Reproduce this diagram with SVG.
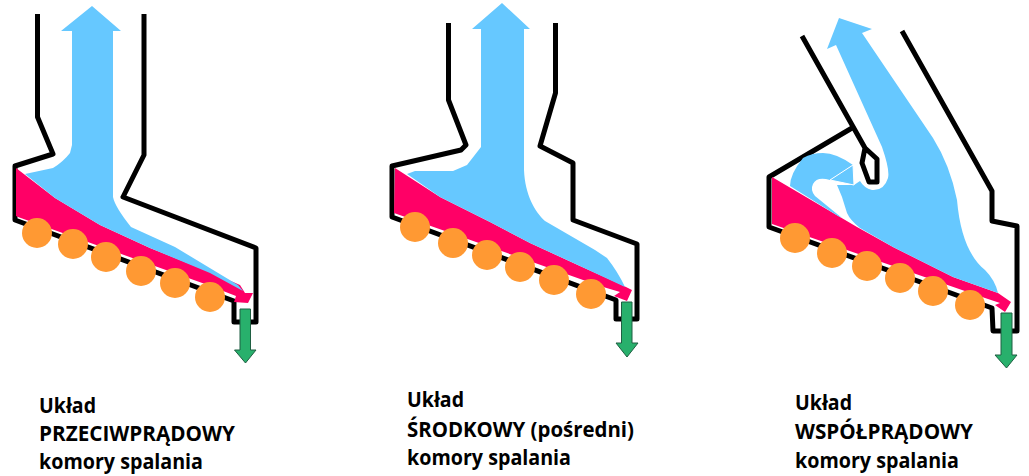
<svg xmlns="http://www.w3.org/2000/svg" width="1029" height="476" viewBox="0 0 1029 476">
<style>
.wall{fill:none;stroke:#000;stroke-width:5;stroke-linejoin:round}
.flue{fill:#66c8ff}
.bed{fill:#ff0066}
.fan{fill:#ff9933}
.ash{fill:#28b06c;stroke:#1f5f42;stroke-width:1}
.lbl{font-family:"Open Sans","Liberation Sans",sans-serif;font-weight:700;font-size:21px;fill:#000}
</style>
<rect width="1029" height="476" fill="#fff"/>
<g id="uklad-przeciwpradowy">
<path class="wall" d="M37.500 14V117L53 154L15 166V220L234 301V322H256V248L123 197L144 155V14"/>
<path class="bed" d="M16 168L55 198L100 225L150 248L210 272L240 285L245 293L253 293L248 303L234 302L236 296L205 284L18 217L16 216Z"/>
<path class="flue" d="M92 6L121 31H113V197Q115 207 131 227L175 247L238 285L243 291L210 273L150 248L100 225L55 198L25 174L53 168Q63 162 70 153L72 145V31H61Z"/>
<g class="fan"><circle cx="37" cy="233" r="15"/><circle cx="73" cy="244" r="15"/><circle cx="106" cy="257" r="15"/><circle cx="141" cy="271" r="15"/><circle cx="175" cy="283" r="15"/><circle cx="210" cy="297" r="15"/></g>
<path class="ash" d="M240 309H250.500V350H256L245.500 363L234.500 350H240Z"/>
</g>
<g id="uklad-srodkowy">
<path class="wall" d="M448.500 23V100L466 145L461 150L392 166V217L616 300V319H637V244L573 220V163L540 146L555.500 93V23"/>
<path class="bed" d="M395 168L440 197L490 222L530 243L580 266L620 284L632 290L627 301L614 296L620 292L600 286L394 213Z"/>
<path class="flue" d="M502 3L530 29H524V170C525 195 535 212 545 221L595 250L607 258Q618 272 625 287L580 266L530 243L490 222L440 197L407 174L415 171H453L467 165L481 147V29H472Z"/>
<g class="fan"><circle cx="415" cy="227" r="15"/><circle cx="453" cy="243" r="15"/><circle cx="487" cy="255" r="15"/><circle cx="520" cy="267" r="15"/><circle cx="554" cy="280" r="15"/><circle cx="591" cy="294" r="15"/></g>
<path class="ash" d="M621.500 302H632V343H638L627 357L616 343H621.500Z"/>
</g>
<g id="uklad-wspolpradowy">
<path class="wall" d="M802 36L865 148L862 163L869 182H877V159L865 148"/>
<path class="wall" d="M852 128L769 177V227L992 308L993 331H1017V226L992 221V191L902 31"/>
<path class="bed" d="M772 177L857 227L893 247L953 277L998 293L1011 302L1005 312L995 305L1000 303L985 298L772 224Z"/>
<path class="flue" d="M839 18L872 29L862 33L933 138Q950 165 957 200C960 235 970 258 985 270Q995 280 998 293L953 277L893 247L860 228Q850 220 847 213L842 197L837 185H854L860 181Q864 188 872 190Q884 191 888 178Q890 170 882 147L836 45L827 49Z"/>
<path class="flue" d="M790 186Q790 174 803 158Q812 153 823 153Q836 153 853 165L830 180Q817 176 813 184Q810 190 815 196L842 218L838 216Z"/>
<path class="flue" d="M853 165L854 185L830 180Z" stroke="#fff" stroke-width="1"/>
<g class="fan"><circle cx="795" cy="238" r="15"/><circle cx="832" cy="253" r="15"/><circle cx="867" cy="266" r="15"/><circle cx="900" cy="278" r="15"/><circle cx="933" cy="291" r="15"/><circle cx="970" cy="305" r="15"/></g>
<path class="ash" d="M1001 313H1012V355H1017L1006.500 368L995 355H1001Z"/>
</g>
<g id="etykiety">
<text class="lbl" x="39" y="413" textLength="57" lengthAdjust="spacingAndGlyphs">Układ</text>
<text class="lbl" x="39" y="441" textLength="196" lengthAdjust="spacingAndGlyphs">PRZECIWPRĄDOWY</text>
<text class="lbl" x="39" y="469" textLength="164" lengthAdjust="spacingAndGlyphs">komory spalania</text>
<text class="lbl" x="407" y="407" textLength="57" lengthAdjust="spacingAndGlyphs">Układ</text>
<text class="lbl" x="407" y="437" textLength="227" lengthAdjust="spacingAndGlyphs">ŚRODKOWY (pośredni)</text>
<text class="lbl" x="407" y="465" textLength="164" lengthAdjust="spacingAndGlyphs">komory spalania</text>
<text class="lbl" x="795" y="410" textLength="57" lengthAdjust="spacingAndGlyphs">Układ</text>
<text class="lbl" x="795" y="439" textLength="178" lengthAdjust="spacingAndGlyphs">WSPÓŁPRĄDOWY</text>
<text class="lbl" x="795" y="468" textLength="164" lengthAdjust="spacingAndGlyphs">komory spalania</text>
</g>
</svg>
